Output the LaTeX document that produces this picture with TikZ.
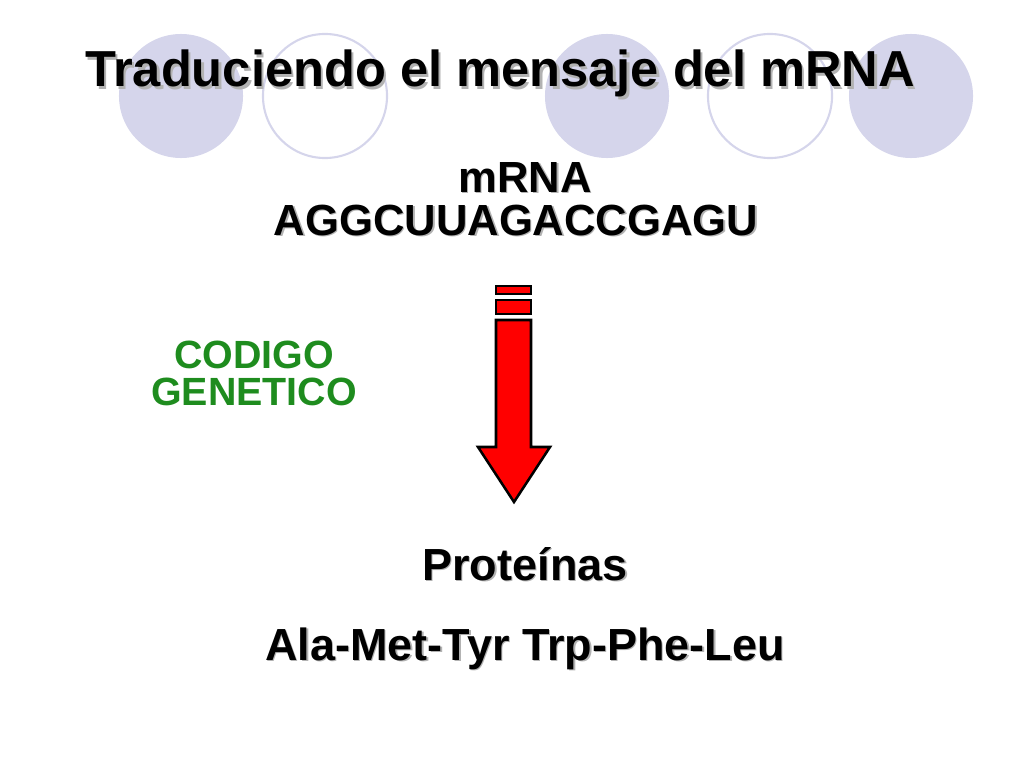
\documentclass[tikz,border=0pt]{standalone}
\usepackage{fontspec}
\setmainfont{Liberation Sans}
\definecolor{lavender}{HTML}{D5D5EB}
\definecolor{codegreen}{HTML}{1E8C1E}
\definecolor{arrowred}{HTML}{FF0000}

\begin{document}
\begin{tikzpicture}[x=0.025cm, y=-0.025cm, thick]

\tikzstyle{every node}=[inner sep=0pt, anchor=base]
\tikzstyle{shadow}=[text=black!30]
\tikzstyle{disc}=[fill=lavender, draw=none]
\tikzstyle{ring}=[draw=lavender, line width=1.5pt]
\tikzstyle{arrowbody}=[fill=arrowred, draw=black, line width=1.8pt, line join=miter]
\tikzstyle{titlefont}=[font=\fontsize{36}{43}\selectfont\bfseries]
\tikzstyle{seqfont}=[font=\fontsize{31}{37}\selectfont\bfseries]
\tikzstyle{codefont}=[font=\fontsize{28}{34}\selectfont\bfseries, text=codegreen]
\tikzstyle{protfont}=[font=\fontsize{32}{38}\selectfont\bfseries]

\useasboundingbox (0,0) rectangle (1024,768);

% circles behind the title
\fill[disc] (181,96) circle (1.55cm);
\draw[ring] (325,96) circle (1.55cm);
\fill[disc] (607,96) circle (1.55cm);
\draw[ring] (770,96) circle (1.55cm);
\fill[disc] (911,96) circle (1.55cm);

\draw (502.5,89.5) node[shadow, titlefont] (title-sh) {Traduciendo el mensaje del mRNA};
\draw (500,87) node[titlefont] (title) {Traduciendo el mensaje del mRNA};

\draw (526.5,193.5) node[shadow, seqfont] (mrna-sh) {mRNA}
      (517.5,236.5) node[shadow, seqfont] (seq-sh) {AGGCUUAGACCGAGU};
\draw (525,192) node[seqfont] (mrna) {mRNA}
      (516,235) node[seqfont] (seq) {AGGCUUAGACCGAGU};

\draw (254,368) node[codefont] (codigo) {CODIGO}
      (254,405) node[codefont] (genetico) {GENETICO};

% arrow
\draw[arrowbody] (496,286) rectangle (531,294);
\draw[arrowbody] (496,300) rectangle (531,314);
\draw[arrowbody] (496,320) -- (531,320) -- (531,447) -- (550,447) -- (514,502)
      -- (478,447) -- (496,447) -- cycle;

\draw (526.5,581.5) node[shadow, protfont] (prot-sh) {Proteínas}
      (526.5,661.5) node[shadow, protfont] (chain-sh) {Ala-Met-Tyr Trp-Phe-Leu};
\draw (525,580) node[protfont] (prot) {Proteínas}
      (525,660) node[protfont] (chain) {Ala-Met-Tyr Trp-Phe-Leu};

\end{tikzpicture}
\end{document}
